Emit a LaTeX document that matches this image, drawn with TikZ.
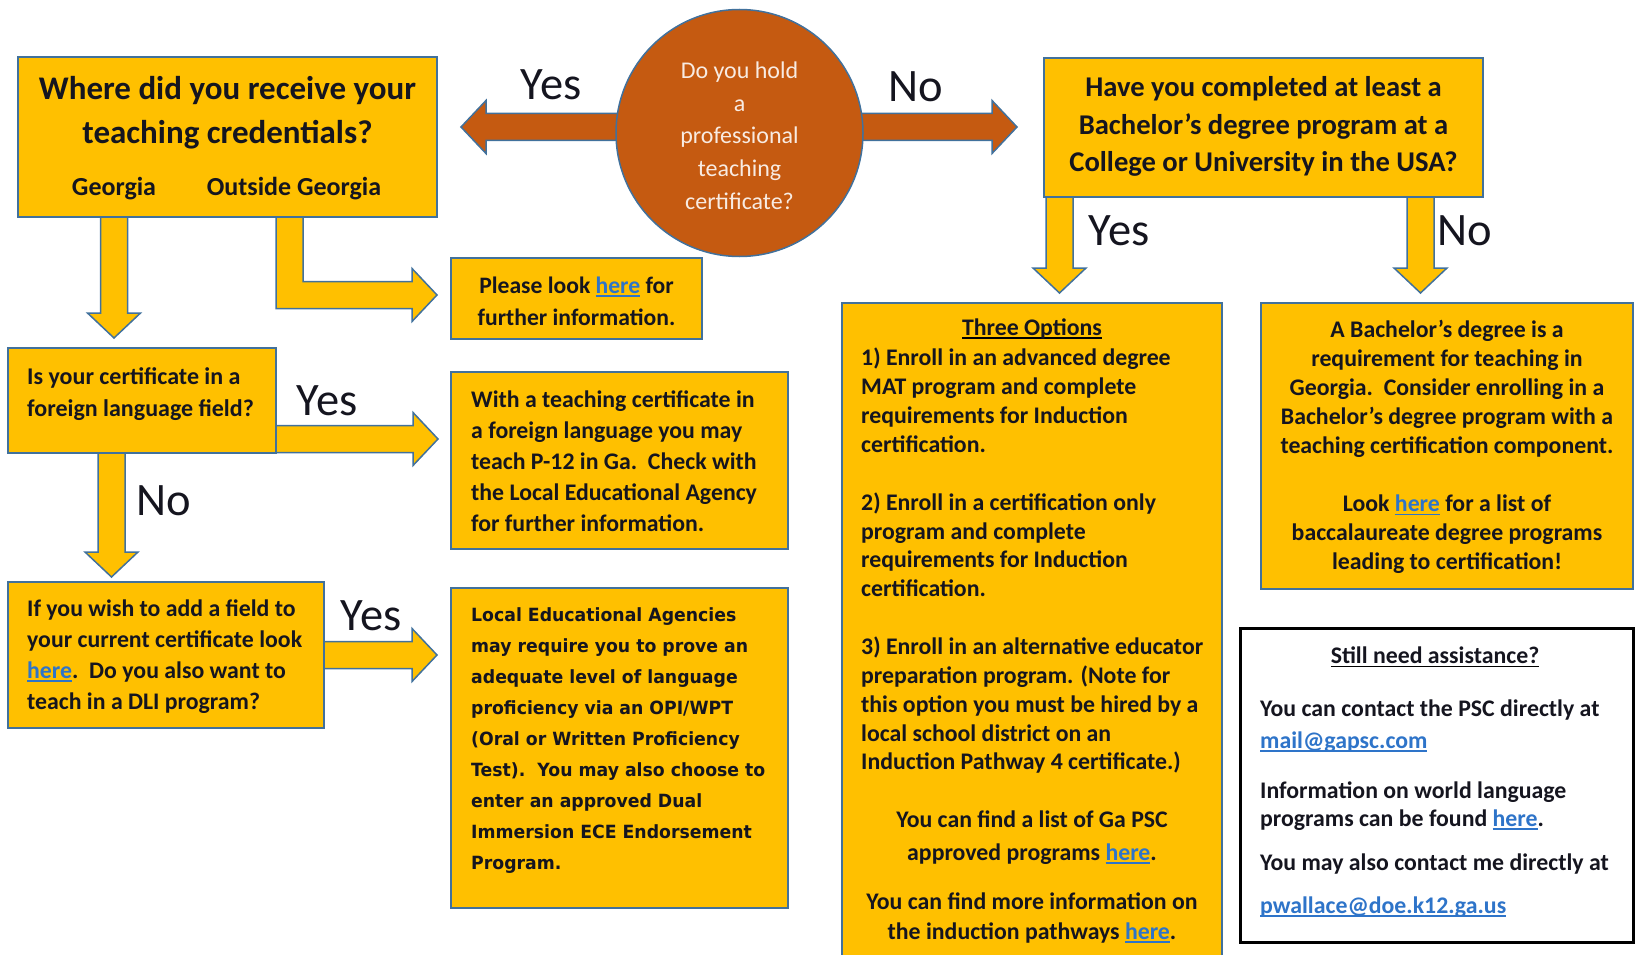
\documentclass[tikz,border=0pt]{standalone}
\usepackage{fontspec}
\setmainfont{Carlito}
\newfontfamily\tahoma[FakeStretch=0.95]{DejaVu Sans}
\usetikzlibrary{calc}

\definecolor{gold}{HTML}{FFC000}
\definecolor{rust}{HTML}{C55A11}
\definecolor{edge}{HTML}{41719C}
\definecolor{linkblue}{HTML}{2E74C9}
\definecolor{ink}{HTML}{15151F}

% underline with a visible rule, and links
\newcommand{\undl}[2][black]{{\setbox0\hbox{#2}\rlap{\color{#1}\rule[-3.5pt]{\wd0}{1.6pt}}\box0}}
\newcommand{\lnk}[1]{\textcolor{linkblue}{\undl[linkblue]{#1}}}

\newcommand{\shaftw}{13.5pt}
\newcommand{\headw}{26.5pt}
\newcommand{\headl}{25pt}
% block arrow from #2 to #3
\newcommand{\blockarrow}[3][gold]{%
  \coordinate (hb) at ($(#3)!\headl!(#2)$);
  \draw[blockline, fill=#1] ($(#2)!\shaftw!90:(#3)$) -- ($(hb)!\shaftw!-90:(#2)$)
    -- ($(hb)!\headw!-90:(#2)$) -- (#3) -- ($(hb)!\headw!90:(#2)$)
    -- ($(hb)!\shaftw!90:(#2)$) -- ($(#2)!\shaftw!-90:(#3)$) -- cycle;}

\begin{document}
\begin{tikzpicture}[x=1pt, y=-1pt,
    box/.style={draw=edge, line width=2pt, fill=gold, inner sep=0pt, outer sep=0pt},
    blockline/.style={draw=edge, line width=1.5pt, line join=miter},
    txt/.style={inner sep=0pt, text=ink, font=\fontsize{23.8}{31}\selectfont\bfseries},
    lbl/.style={inner sep=0pt, anchor=base, text=ink, font=\fontsize{46.5}{50}\selectfont}]
  \useasboundingbox (0,0) rectangle (1639,955);

  % boxes
  \node[box, minimum width=419pt, minimum height=160pt] (where) at (227.5,137) {};
  \node[box, minimum width=439pt, minimum height=139pt] (bach) at (1263.5,127.5) {};
  \node[box, minimum width=251pt, minimum height=81pt] (please) at (576.5,298.5) {};
  \node[box, minimum width=268pt, minimum height=105pt] (isfl) at (142,400.5) {};
  \node[box, minimum width=337pt, minimum height=177pt] (with) at (619.5,460.5) {};
  \node[box, minimum width=316pt, minimum height=146pt] (ifadd) at (166,655) {};
  \node[box, minimum width=337pt, minimum height=320pt] (local) at (619.5,748) {};
  \node[box, minimum width=380pt, minimum height=660pt] (three) at (1032,633) {};
  \node[box, minimum width=372pt, minimum height=286pt] (req) at (1447,446) {};
  \node[draw=black, line width=3pt, fill=white, minimum width=393pt, minimum height=314pt] (still) at (1436.5,785) {};

  % texts in the boxes
  \node[txt, align=center, font=\fontsize{33}{44}\selectfont\bfseries] (whereT) at (227.5,113)
    {Where did you receive your\\teaching credentials?};
  \node[txt, font=\fontsize{26}{30}\selectfont\bfseries] (geo) at (114,189) {Georgia};
  \node[txt, font=\fontsize{26}{30}\selectfont\bfseries] (out) at (294,189) {Outside Georgia};
  \node[txt, align=center, font=\fontsize{28.6}{37.5}\selectfont\bfseries] (bachT) at (1263.5,126.5)
    {Have you completed at least a\\Bachelor’s degree program at a\\College or University in the USA?};
  \node[txt, align=center, font=\fontsize{23.6}{32}\selectfont\bfseries] (pleaseT) at (576.5,301)
    {Please look \lnk{here} for\\further information.};
  \node[txt, align=left, anchor=west, font=\fontsize{24}{32}\selectfont\bfseries] (isflT) at (27,394)
    {Is your certificate in a\\foreign language field?};
  \node[txt, align=left, anchor=west] (withT) at (471,461.5)
    {With a teaching certificate in\\a foreign language you may\\teach P-12 in Ga.\ \ Check with\\the Local Educational Agency\\for further information.};
  \node[txt, align=left, anchor=west] (ifaddT) at (27,656.5)
    {If you wish to add a field to\\your current certificate look\\\lnk{here}.\ \ Do you also want to\\teach in a DLI program?};
  \node[txt, align=left, anchor=west, font=\tahoma\fontsize{18.2}{31}\selectfont\bfseries] (localT) at (471,741)
    {Local Educational Agencies\\may require you to prove an\\adequate level of language\\proficiency via an OPI/WPT\\(Oral or Written Proficiency\\Test).\ \ You may also choose to\\enter an approved Dual\\Immersion ECE Endorsement\\Program.};
  \node[txt] (threeH) at (1032,329) {\undl{Three Options}};
  \node[txt, align=left, anchor=west, font=\fontsize{23.8}{28.86}\selectfont\bfseries] (threeT) at (861,561)
    {1) Enroll in an advanced degree\\MAT program and complete\\requirements for Induction\\certification.\\[28.86pt]2) Enroll in a certification only\\program and complete\\requirements for Induction\\certification.\\[28.86pt]3) Enroll in an alternative educator\\preparation program. (Note for\\this option you must be hired by a\\local school district on an\\Induction Pathway 4 certificate.)};
  \node[txt, align=center, font=\fontsize{23.8}{33}\selectfont\bfseries] (threeF1) at (1032,837.5)
    {You can find a list of Ga PSC\\approved programs \lnk{here}.};
  \node[txt, align=center, font=\fontsize{23.8}{30}\selectfont\bfseries] (threeF2) at (1032,918)
    {You can find more information on\\the induction pathways \lnk{here}.};
  \node[txt, align=center, font=\fontsize{23.8}{29}\selectfont\bfseries] (reqT) at (1447,447)
    {A Bachelor’s degree is a\\requirement for teaching in\\Georgia.\ \ Consider enrolling in a\\Bachelor’s degree program with a\\teaching certification component.\\[29pt]Look \lnk{here} for a list of\\baccalaureate degree programs\\leading to certification!};
  \node[txt] (stillH) at (1435,657) {\undl{Still need assistance?}};
  \node[txt, align=left, anchor=west, font=\fontsize{23.8}{32}\selectfont\bfseries] (stillT1) at (1260,726)
    {You can contact the PSC directly at\\\lnk{mail@gapsc.com}};
  \node[txt, align=left, anchor=west, font=\fontsize{23.8}{28}\selectfont\bfseries] (stillT2) at (1260,806)
    {Information on world language\\programs can be found \lnk{here}.};
  \node[txt, anchor=west] (stillT3) at (1260,864) {You may also contact me directly at};
  \node[txt, anchor=west] (stillT4) at (1260,907) {\lnk{pwallace@doe.k12.ga.us}};

  % orange arrows out of the circle
  \coordinate (yesLt) at (461,127);
  \coordinate (noRt) at (1017,127);
  \coordinate (circC) at (739.5,133);
  \blockarrow[rust]{circC |- yesLt}{yesLt}
  \blockarrow[rust]{circC |- noRt}{noRt}
  \node[circle, draw=edge, line width=1.5pt, fill=rust, minimum size=247pt, inner sep=0pt] (circ) at (circC) {};
  \node[inner sep=0pt, align=center, text=white!88!rust, font=\fontsize{24}{32.7}\selectfont] (circT) at (739.5,135.5)
    {Do you hold\\a\\professional\\teaching\\certificate?};

  % yellow arrows
  \coordinate (geoS) at (where.south -| geo);
  \coordinate (geoT) at ($(isfl.north -| geo)-(0,10)$);
  \blockarrow{geoS}{geoT}
  \coordinate (outS) at ($(where.south west)+(271.5,0)$);
  \coordinate (outT) at ($(please.west)+(-14,-3.5)$);
  \draw[blockline, fill=gold] let \p1=(outS), \p2=(outT) in
    (\x1-\shaftw,\y1) -- (\x1-\shaftw,\y2-\shaftw) -- (\x2-\headl,\y2-\shaftw) -- (\x2-\headl,\y2-\headw)
    -- (\x2,\y2) -- (\x2-\headl,\y2+\headw) -- (\x2-\headl,\y2+\shaftw) -- (\x1+\shaftw,\y2+\shaftw)
    -- (\x1+\shaftw,\y1) -- cycle;
  \coordinate (yes1S) at ($(isfl.south east)+(0,-14)$);
  \coordinate (yes1T) at ($(with.west |- yes1S)+(-13,0)$);
  \blockarrow{yes1S}{yes1T}
  \coordinate (no1S) at ($(isfl.south west)+(103.5,0)$);
  \coordinate (no1T) at ($(ifadd.north west)+(103.5,-5)$);
  \blockarrow{no1S}{no1T}
  \coordinate (yes2T) at ($(local.west |- ifadd.east)+(-14,0)$);
  \blockarrow{ifadd.east}{yes2T}
  \coordinate (yesDS) at ($(bach.south west)+(15.5,0)$);
  \coordinate (yesDT) at ($(three.north -| yesDS)+(0,-10)$);
  \blockarrow{yesDS}{yesDT}
  \coordinate (noDS) at ($(bach.south west)+(376.5,0)$);
  \coordinate (noDT) at ($(req.north -| noDS)+(0,-10)$);
  \blockarrow{noDS}{noDT}

  % branch labels
  \node[lbl] (yesL) at (551,100) {Yes};
  \node[lbl] (noR) at (916,102) {No};
  \node[lbl] (yesD) at (1119,245) {Yes};
  \node[lbl] (noD) at (1465,245) {No};
  \node[lbl] (yes1) at (327,415) {Yes};
  \node[lbl] (no1) at (164,515) {No};
  \node[lbl] (yes2) at (371,630) {Yes};
\end{tikzpicture}
\end{document}
